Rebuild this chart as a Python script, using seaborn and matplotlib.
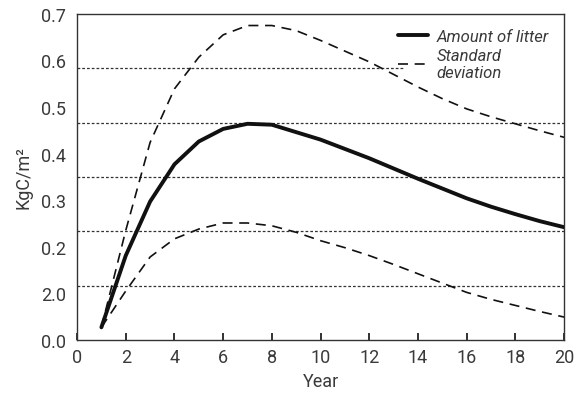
import numpy as np
import pandas as pd
import matplotlib
matplotlib.use("Agg")
import matplotlib.pyplot as plt
import seaborn as sns
from matplotlib.lines import Line2D

years = list(range(1, 21))
litter = [0.027, 0.181, 0.297, 0.377, 0.426, 0.453, 0.464, 0.462, 0.446, 0.430,
          0.410, 0.390, 0.368, 0.346, 0.325, 0.304, 0.286, 0.270, 0.255, 0.242]
upper_sd = [0.027, 0.235, 0.424, 0.539, 0.607, 0.655, 0.675, 0.675, 0.664, 0.643,
            0.620, 0.597, 0.570, 0.543, 0.518, 0.496, 0.479, 0.464, 0.449, 0.435]
lower_sd = [0.027, 0.105, 0.178, 0.217, 0.238, 0.251, 0.251, 0.245, 0.231, 0.213,
            0.198, 0.181, 0.162, 0.142, 0.122, 0.102, 0.087, 0.074, 0.061, 0.049]

y_tick_values = [0.0, 0.1, 0.2, 0.3, 0.4, 0.5, 0.6, 0.7]
y_tick_labels = ["0.0", "2.0", "0.2", "0.3", "0.4", "0.5", "0.6", "0.7"]
x_tick_values = [0, 2, 4, 6, 8, 10, 12, 14, 16, 18, 20]
grid_levels = [0.7 * k / 6 for k in range(1, 6)]

sns.set_style("white")
plt.rcParams['font.family'] = ['Roboto', 'DejaVu Sans']

df = pd.DataFrame({"Year": years, "litter": litter, "upper": upper_sd, "lower": lower_sd})

fig = plt.figure(figsize=(5.75, 4.02), dpi=100)
ax = fig.add_axes([0.134, 0.152, 0.847, 0.811])

txt = "#3a3a3a"
for i, g in enumerate(grid_levels):
    xmax = 0.67 if i == len(grid_levels) - 1 else 1.0
    ax.axhline(g, xmin=0, xmax=xmax, color="#333333", lw=0.9, ls=(0, (2.2, 1.6)), zorder=1)

sns.lineplot(data=df, x="Year", y="upper", ax=ax, color="#111111", lw=1.2,
             linestyle=(0, (6, 4)), zorder=3)
sns.lineplot(data=df, x="Year", y="lower", ax=ax, color="#111111", lw=1.2,
             linestyle=(0, (6, 4)), zorder=3)
sns.lineplot(data=df, x="Year", y="litter", ax=ax, color="#111111", lw=2.8, zorder=4)

ax.set_xlim(0, 20)
ax.set_ylim(0, 0.7)
ax.set_xticks(x_tick_values)
ax.set_xticklabels([str(v) for v in x_tick_values])
ax.set_yticks(y_tick_values)
ax.set_yticklabels(y_tick_labels)
ax.tick_params(axis="x", direction="in", length=5, width=1.3, color="#222222",
               labelsize=13, labelcolor=txt, pad=6, bottom=True)
ax.tick_params(axis="y", length=0, labelsize=13, labelcolor=txt, pad=8)
for s in ax.spines.values():
    s.set_visible(True)
    s.set_color("#333333")
    s.set_linewidth(1.0)

ax.set_xlabel("Year", fontsize=13, color=txt, labelpad=4)
ax.set_ylabel("KgC/m²", fontsize=13, color=txt, labelpad=6)

handles = [Line2D([], [], color="#111111", lw=2.8),
           Line2D([], [], color="#111111", lw=1.2, ls=(0, (6, 4)))]
leg = ax.legend(handles, ["Amount of litter", "Standard\ndeviation"],
                loc="upper right", frameon=False, fontsize=12,
                handlelength=1.8, handletextpad=0.5, labelspacing=0.25,
                borderaxespad=0.5)
for t in leg.get_texts():
    t.set_fontstyle("italic")
    t.set_color(txt)

fig.savefig("out.png", dpi=100)
